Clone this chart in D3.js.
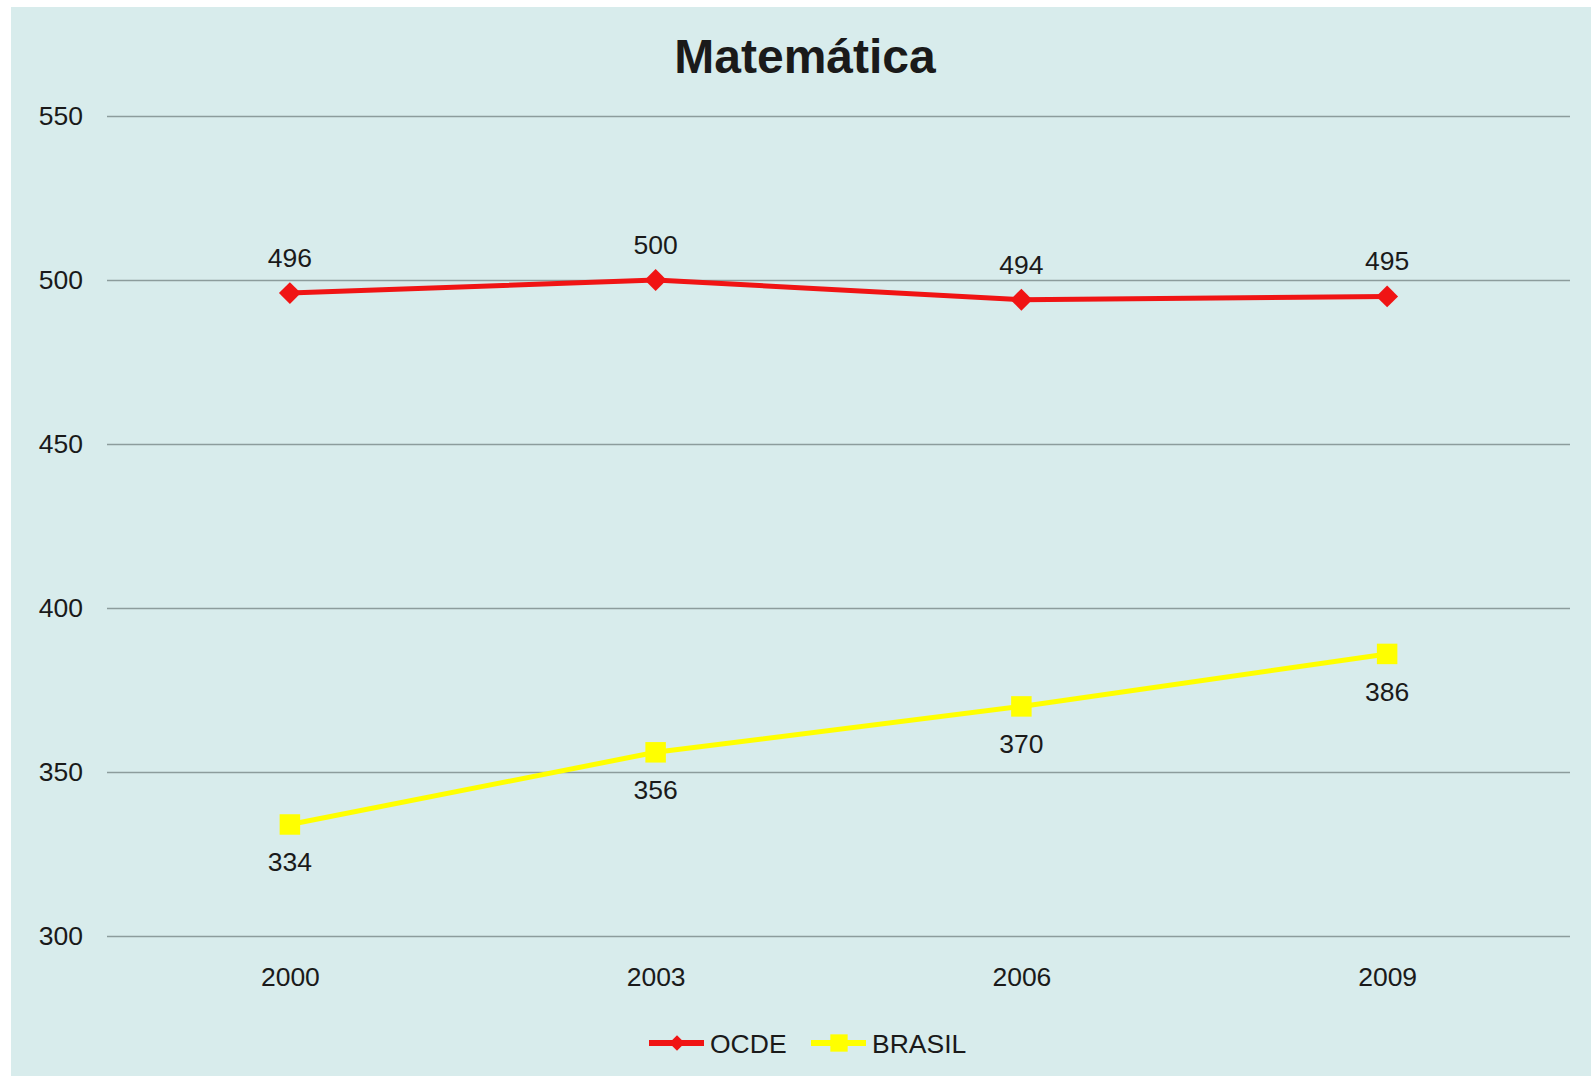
<!DOCTYPE html>
<html>
<head>
<meta charset="UTF-8">
<script src="https://cdn.jsdelivr.net/npm/d3@7"></script>
<style>
  body { margin: 0; background: #ffffff; }
  text { font-family: "Liberation Sans", Arial, sans-serif; fill: #1a1a1a; }
</style>
</head>
<body>
<div id="chart"></div>
<script>
  const years = ["2000", "2003", "2006", "2009"]
  const ocde = [496, 500, 494, 495]
  const brasil = [334, 356, 370, 386]
  const yTicks = [300, 350, 400, 450, 500, 550]

  const width = 1591
  const height = 1076
  const plotLeft = 107, plotRight = 1570, plotTop = 116, plotBottom = 936

  const svg = d3.select("#chart").append("svg")
      .attr("width", width)
      .attr("height", height)

  svg.append("rect")
      .attr("x", 11).attr("y", 7)
      .attr("width", width - 11).attr("height", height - 7)
      .attr("fill", "#d8ecec")

  const x = d3.scalePoint().domain(years).range([plotLeft, plotRight]).padding(0.5)
  const y = d3.scaleLinear().domain([300, 550]).range([plotBottom, plotTop])

  // title
  svg.append("text")
      .attr("x", 805).attr("y", 73)
      .attr("text-anchor", "middle")
      .style("font-size", "48px").style("font-weight", "bold")
      .text("Matemática")

  // grid + y axis
  const yAxis = d3.axisLeft(y).tickValues(yTicks).tickSize(-(plotRight - plotLeft)).tickPadding(24)
  const gy = svg.append("g").attr("transform", `translate(${plotLeft},0)`).call(yAxis)
  gy.select(".domain").remove()
  gy.selectAll(".tick line").attr("stroke", "#8c9c9c").attr("stroke-width", 1.5)
  gy.selectAll(".tick text").style("font-size", "26.5px").attr("fill", "#1a1a1a")

  // x axis labels
  const xAxis = d3.axisBottom(x).tickSize(0).tickPadding(31)
  const gx = svg.append("g").attr("transform", `translate(0,${plotBottom})`).call(xAxis)
  gx.select(".domain").remove()
  gx.selectAll(".tick text").style("font-size", "26.5px").attr("fill", "#1a1a1a")

  const series = [
    { name: "OCDE", values: ocde, color: "#f01414", shape: d3.symbolSquare, rotate: 45, size: 240, legendSize: 120, labelDy: -26 },
    { name: "BRASIL", values: brasil, color: "#ffff00", shape: d3.symbolSquare, rotate: 0, size: 420, legendSize: 300, labelDy: 47 }
  ]

  const line = d3.line().x((d, i) => x(years[i])).y(d => y(d))

  series.forEach(s => {
    svg.append("path")
        .attr("d", line(s.values))
        .attr("fill", "none")
        .attr("stroke", s.color)
        .attr("stroke-width", 5)

    svg.selectAll(null).data(s.values).enter().append("path")
        .attr("d", d3.symbol().type(s.shape).size(s.size))
        .attr("transform", (d, i) => `translate(${x(years[i])},${y(d)}) rotate(${s.rotate})`)
        .attr("fill", s.color)

    svg.selectAll(null).data(s.values).enter().append("text")
        .attr("x", (d, i) => x(years[i]))
        .attr("y", d => y(d) + s.labelDy)
        .attr("text-anchor", "middle")
        .style("font-size", "26.5px")
        .text(d => d)
  })

  // legend
  const legendX = [649, 811]
  const legend = svg.append("g").attr("transform", "translate(0,1043)")
  series.forEach((s, i) => {
    const g = legend.append("g").attr("transform", `translate(${legendX[i]},0)`)
    g.append("line").attr("x1", 0).attr("x2", 55)
        .attr("stroke", s.color).attr("stroke-width", 6)
    g.append("path")
        .attr("d", d3.symbol().type(s.shape).size(s.legendSize))
        .attr("transform", `translate(28,0) rotate(${s.rotate})`)
        .attr("fill", s.color)
    g.append("text")
        .attr("x", 61).attr("y", 10)
        .style("font-size", "26.5px")
        .text(s.name)
  })
</script>
</body>
</html>
